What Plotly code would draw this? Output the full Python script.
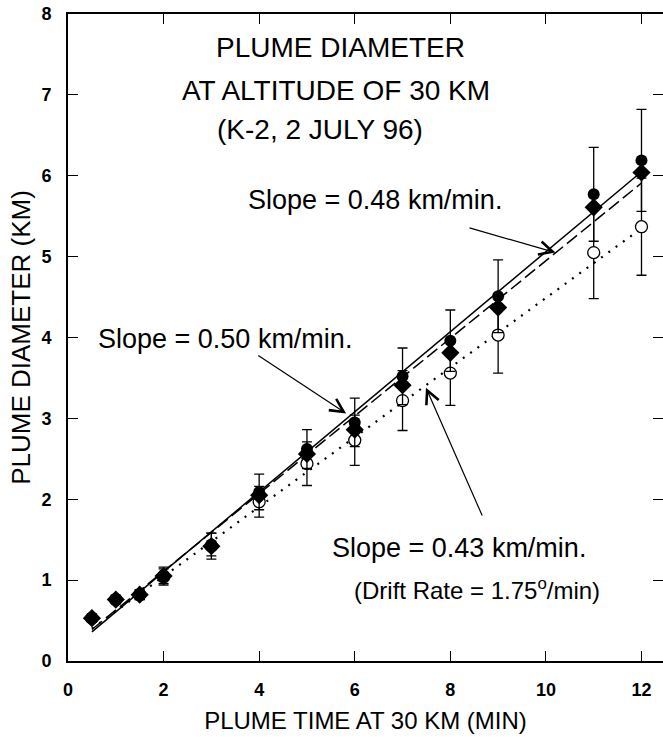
import plotly.graph_objects as go

# ---- data ----
time_min = [0.5, 1, 1.5, 2, 3, 4, 5, 6, 7, 8, 9, 11, 12]
diam_filled = [0.53, 0.76, 0.82, 1.06, 1.44, 2.09, 2.62, 2.95, 3.52, 3.96, 4.51, 5.77, 6.19]
err_filled = [0.05, 0.05, 0.06, 0.10, 0.14, 0.22, 0.24, 0.30, 0.35, 0.38, 0.45, 0.58, 0.63]
diam_diamond = [0.53, 0.76, 0.82, 1.05, 1.42, 2.05, 2.56, 2.86, 3.41, 3.81, 4.37, 5.61, 6.04]
diam_open = [0.53, 0.76, 0.82, 1.04, 1.42, 1.97, 2.44, 2.73, 3.22, 3.56, 4.03, 5.05, 5.37]
err_open = [0.05, 0.05, 0.06, 0.10, 0.16, 0.19, 0.27, 0.31, 0.37, 0.40, 0.47, 0.57, 0.60]

fit_x = [0.5, 12]
fit_solid = [0.36, 6.05]    # slope 0.50 km/min
fit_dashed = [0.39, 5.91]   # slope 0.48 km/min
fit_dotted = [0.40, 5.35]   # slope 0.43 km/min

x_ticks = [0, 2, 4, 6, 8, 10, 12]
y_ticks = [0, 1, 2, 3, 4, 5, 6, 7, 8]

FONT = "Liberation Sans"

fig = go.Figure()

# fit lines
fig.add_trace(go.Scatter(x=fit_x, y=fit_solid, mode="lines",
                         line=dict(color="black", width=1.5)))
fig.add_trace(go.Scatter(x=fit_x, y=fit_dashed, mode="lines",
                         line=dict(color="black", width=1.5, dash="13px,5px")))
fig.add_trace(go.Scatter(x=fit_x, y=fit_dotted, mode="lines",
                         line=dict(color="black", width=2.2, dash="2px,7px")))

# open circles with error bars
fig.add_trace(go.Scatter(
    x=time_min, y=diam_open, mode="markers",
    marker=dict(symbol="circle", size=12, color="white",
                line=dict(color="black", width=1.3)),
    error_y=dict(type="data", array=err_open, color="black", thickness=1.3, width=5),
))
# filled diamonds
fig.add_trace(go.Scatter(
    x=time_min, y=diam_diamond, mode="markers",
    marker=dict(symbol="diamond", size=14, color="black"),
))
# filled circles with error bars
fig.add_trace(go.Scatter(
    x=time_min, y=diam_filled, mode="markers",
    marker=dict(symbol="circle", size=12, color="black"),
    error_y=dict(type="data", array=err_filled, color="black", thickness=1.3, width=5),
))

annotations = []
def text(x, y, s, size=27):
    annotations.append(dict(x=x, y=y, xref="x", yref="y", text=s, showarrow=False,
                            font=dict(family=FONT, size=size, color="black"),
                            xanchor="center", yanchor="middle"))

text(5.71, 7.58, "PLUME DIAMETER", size=28)
text(5.61, 7.05, "AT ALTITUDE OF 30 KM", size=28)
text(5.28, 6.57, "(K-2, 2 JULY 96)", size=28)
text(6.42, 5.70, "Slope = 0.48 km/min.")
text(3.29, 3.98, "Slope = 0.50 km/min.")
text(8.18, 1.40, "Slope = 0.43 km/min.")
text(8.55, 0.89, "(Drift Rate = 1.75<sup>o</sup>/min)", size=24)

def arrow(x, y, ax, ay):
    annotations.append(dict(x=x, y=y, ax=ax, ay=ay, xref="x", yref="y",
                            axref="x", ayref="y", text="", showarrow=True,
                            arrowhead=5, arrowsize=2.2, arrowwidth=1.2,
                            arrowcolor="black"))

arrow(10.20, 5.05, 8.37, 5.36)
arrow(5.82, 3.06, 3.95, 3.79)
arrow(7.49, 3.38, 8.68, 1.78)

fig.update_layout(
    width=663, height=738,
    margin=dict(l=68, r=0, t=14, b=77, autoexpand=False),
    plot_bgcolor="white", paper_bgcolor="white",
    showlegend=False,
    font=dict(family=FONT, color="black"),
    annotations=annotations,
)
fig.update_xaxes(
    range=[0, 12.45], tickvals=x_ticks, ticktext=[str(v) for v in x_ticks],
    ticks="inside", ticklen=10, tickwidth=1.3, tickcolor="black",
    mirror="ticks", showline=True, linecolor="black", linewidth=1.7,
    showgrid=False, zeroline=False, automargin=False,
    tickfont=dict(family=FONT, size=18, weight="bold", color="black"),
    ticklabelstandoff=12, ticklabeloverflow="allow",
    title=dict(text="PLUME TIME AT 30 KM (MIN)", font=dict(family=FONT, size=24), standoff=13),
)
fig.update_yaxes(
    range=[0, 8], tickvals=y_ticks, ticktext=[str(v) for v in y_ticks],
    ticks="inside", ticklen=10, tickwidth=1.3, tickcolor="black",
    mirror="ticks", showline=True, linecolor="black", linewidth=1.7,
    showgrid=False, zeroline=False, automargin=False,
    tickfont=dict(family=FONT, size=18, weight="bold", color="black"),
    ticklabelstandoff=11, ticklabeloverflow="allow",
    title=dict(text="PLUME DIAMETER (KM)", font=dict(family=FONT, size=26), standoff=3),
)

# remove the page's default 8 px body margin so the figure fills the window
fig.write_html("out.html", config={"displayModeBar": False},
               post_script="document.body.style.margin='0';")
